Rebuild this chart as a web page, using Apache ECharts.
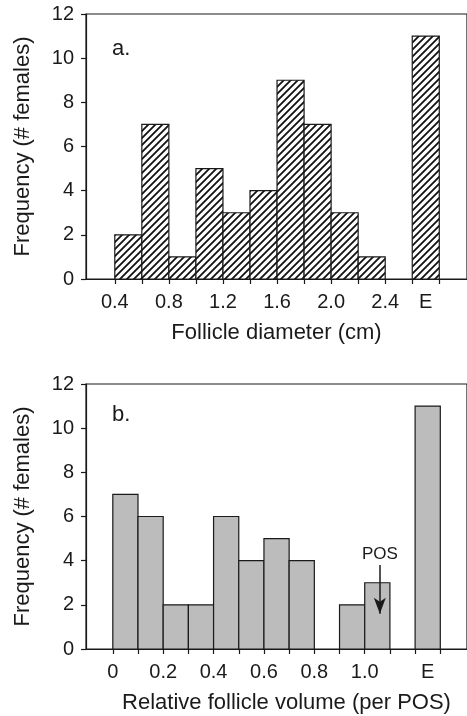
<!DOCTYPE html>
<html>
<head>
<meta charset="utf-8">
<script src="https://cdn.jsdelivr.net/npm/echarts@6/dist/echarts.min.js"></script>
<style>
  html, body { margin: 0; padding: 0; background: #fff; }
  #chart { width: 467px; height: 716px; }
</style>
</head>
<body>
<div id="chart"></div>
<script>
// panel a: follicle diameter (cm), bins of 0.2, last bin is "E"
const diameterBinStart = [0.4, 0.6, 0.8, 1.0, 1.2, 1.4, 1.6, 1.8, 2.0, 2.2, 2.6];
const diameterCounts = [2, 7, 1, 5, 3, 4, 9, 7, 3, 1, 11];
const diameterBinWidth = 0.2;
const diameterTicks = [0.4, 0.6, 0.8, 1.0, 1.2, 1.4, 1.6, 1.8, 2.0, 2.2, 2.4, 2.6, 2.8];
const diameterLabelValues = [0.4, 0.8, 1.2, 1.6, 2.0, 2.4, 2.7];
const diameterLabelText = ['0.4', '0.8', '1.2', '1.6', '2.0', '2.4', 'E'];

// panel b: relative follicle volume (per POS), bins of 0.1, last bin is "E"
const volumeBinStart = [0, 0.1, 0.2, 0.3, 0.4, 0.5, 0.6, 0.7, 0.9, 1.0, 1.2];
const volumeCounts = [7, 6, 2, 2, 6, 4, 5, 4, 2, 3, 11];
const volumeBinWidth = 0.1;
const volumeTicks = [0, 0.1, 0.2, 0.3, 0.4, 0.5, 0.6, 0.7, 0.8, 0.9, 1.0, 1.1, 1.2, 1.3];
const volumeLabelValues = [0, 0.2, 0.4, 0.6, 0.8, 1.0, 1.25];
const volumeLabelText = ['0', '0.2', '0.4', '0.6', '0.8', '1.0', 'E'];

// POS arrow (x, y from, y to)
const posArrow = { x: 1.06, yFrom: 3.8, yTo: 1.6 };

const FONT = 'Liberation Sans, Arial, Helvetica, sans-serif';
const INK = '#1a1a1a';

// diagonal hatch for panel a
function makeHatch() {
  const s = 7;
  const c = document.createElement('canvas');
  c.width = s; c.height = s;
  const ctx = c.getContext('2d');
  ctx.fillStyle = '#fff';
  ctx.fillRect(0, 0, s, s);
  ctx.strokeStyle = '#111';
  ctx.lineWidth = 1.8;
  ctx.beginPath();
  ctx.moveTo(-1, s + 1); ctx.lineTo(s + 1, -1);
  ctx.moveTo(-1, 1); ctx.lineTo(1, -1);
  ctx.moveTo(s - 1, s + 1); ctx.lineTo(s + 1, s - 1);
  ctx.stroke();
  return c;
}

function labelFor(values, texts) {
  return function (v) {
    for (let i = 0; i < values.length; i++) {
      if (Math.abs(values[i] - v) < 1e-6) return texts[i];
    }
    return '';
  };
}

function binData(starts, counts, w) {
  return starts.map((s, i) => [s, +(s + w).toFixed(3), counts[i]]);
}

function renderBin(params, api) {
  const p0 = api.coord([api.value(0), api.value(2)]);
  const p1 = api.coord([api.value(1), 0]);
  return {
    type: 'rect',
    shape: { x: p0[0], y: p0[1], width: p1[0] - p0[0], height: p1[1] - p0[1] },
    style: api.style()
  };
}

function xAxisFor(gridIndex, min, max, ticks, lv, lt, name, namePad) {
  return {
    type: 'value',
    gridIndex: gridIndex,
    min: min,
    max: max,
    splitLine: { show: false },
    axisLine: { show: true, onZero: false, lineStyle: { color: INK, width: 1.2 } },
    axisTick: { show: true, length: 5, customValues: ticks, lineStyle: { color: INK, width: 1.2 } },
    axisLabel: {
      customValues: lv,
      formatter: labelFor(lv, lt),
      margin: 13,
      fontSize: 20,
      fontFamily: FONT,
      color: INK
    },
    name: name,
    nameLocation: 'middle',
    nameGap: 43,
    nameTextStyle: { fontSize: 22, fontFamily: FONT, color: INK, padding: namePad }
  };
}

function yAxisFor(gridIndex) {
  return {
    type: 'value',
    gridIndex: gridIndex,
    min: 0,
    max: 12,
    interval: 2,
    splitLine: { show: false },
    axisLine: { show: true, onZero: false, lineStyle: { color: INK, width: 1.2 } },
    axisTick: { show: true, length: 5, lineStyle: { color: INK, width: 1.2 } },
    axisLabel: { margin: 12, fontSize: 20, fontFamily: FONT, color: INK },
    name: 'Frequency (# females)',
    nameLocation: 'middle',
    nameGap: 52,
    nameTextStyle: { fontSize: 22, fontFamily: FONT, color: INK }
  };
}

const chart = echarts.init(document.getElementById('chart'));

chart.setOption({
  animation: false,
  backgroundColor: '#fff',
  grid: [
    { left: 86, top: 14, width: 384, height: 265, show: true, borderColor: INK, borderWidth: 1.2, backgroundColor: 'transparent' },
    { left: 86, top: 384, width: 384, height: 265, show: true, borderColor: INK, borderWidth: 1.2, backgroundColor: 'transparent' }
  ],
  xAxis: [
    xAxisFor(0, 0.187, 3.005, diameterTicks, diameterLabelValues, diameterLabelText, 'Follicle diameter (cm)', [0, 0, 0, 0]),
    xAxisFor(1, -0.1064, 1.406, volumeTicks, volumeLabelValues, volumeLabelText, 'Relative follicle volume (per POS)', [0, 0, 0, 20])
  ],
  yAxis: [yAxisFor(0), yAxisFor(1)],
  graphic: [
    { type: 'text', left: 112, top: 38, style: { text: 'a.', fontSize: 22, fontFamily: FONT, fill: INK } },
    { type: 'text', left: 112, top: 404, style: { text: 'b.', fontSize: 22, fontFamily: FONT, fill: INK } }
  ],
  series: [
    {
      type: 'custom',
      xAxisIndex: 0,
      yAxisIndex: 0,
      renderItem: renderBin,
      encode: { x: [0, 1], y: 2 },
      itemStyle: { color: { image: makeHatch(), repeat: 'repeat' }, borderColor: INK, borderWidth: 1.2 },
      data: binData(diameterBinStart, diameterCounts, diameterBinWidth)
    },
    {
      type: 'custom',
      xAxisIndex: 1,
      yAxisIndex: 1,
      renderItem: renderBin,
      encode: { x: [0, 1], y: 2 },
      itemStyle: { color: '#bcbcbc', borderColor: INK, borderWidth: 1.2 },
      data: binData(volumeBinStart, volumeCounts, volumeBinWidth),
      markLine: {
        silent: true,
        symbol: ['none', 'arrow'],
        symbolSize: [9, 16],
        lineStyle: { color: INK, width: 1.5, type: 'solid' },
        label: { show: true, position: 'start', formatter: 'POS', fontSize: 17, fontFamily: FONT, color: INK, distance: 2 },
        data: [[
          { coord: [posArrow.x, posArrow.yFrom] },
          { coord: [posArrow.x, posArrow.yTo] }
        ]]
      }
    }
  ]
});
</script>
</body>
</html>
